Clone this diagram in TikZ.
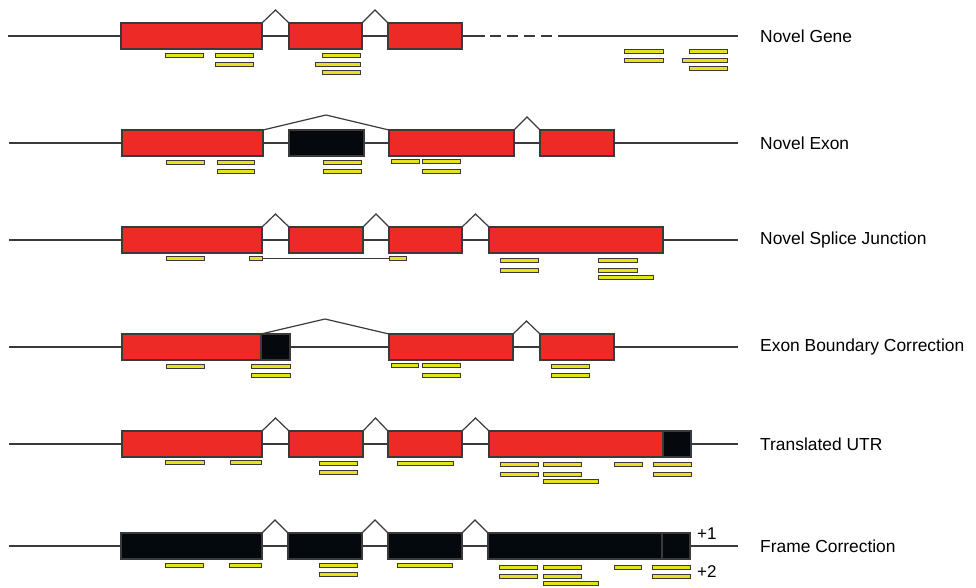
\documentclass[tikz,border=0pt]{standalone}
\usepackage{fontspec}
\setmainfont{Liberation Sans}
\usepackage{xcolor}
\definecolor{exon-red}{HTML}{EE2A27}
\definecolor{exon-black}{HTML}{05080C}
\definecolor{read-yellow}{HTML}{E6E21C}
\definecolor{edge-grey}{HTML}{3A3A3A}
\usetikzlibrary{calc}
\tikzset{exon/.style = {draw=edge-grey, line width=1.2pt, fill=exon-red, inner sep=0pt, outer sep=0pt, minimum height=26pt, anchor=west}}
\tikzset{novel/.style = {exon, fill=exon-black}}
\tikzset{read/.style = {draw=edge-grey, line width=1pt, fill=read-yellow}}
\tikzset{splitread/.style = {read, inner sep=0pt, outer sep=0pt, minimum height=4pt, anchor=west}}
\tikzset{backbone/.style = {draw=edge-grey, line width=1.2pt}}
\tikzset{intron/.style = {draw=edge-grey, line width=1.2pt}}
\tikzset{rowlabel/.style = {anchor=west, inner sep=0pt, font=\fontsize{17.4}{20}\selectfont}}

\begin{document}
\begin{tikzpicture}[x=1pt, y=-1pt]
\useasboundingbox (0,0) rectangle (976,587);

% novel gene
\coordinate (s1) at (8,36);
\coordinate (m1) at (485,36);
\coordinate (n1) at (552,36);
\coordinate (t1) at (738,36);
\draw[backbone] (s1) -- (m1);
\draw[backbone, dash pattern=on 11pt off 6pt] ($(m1)+(5,0)$) -- (n1);
\draw[backbone] ($(n1)+(6,0)$) -- (t1);
\node[exon, minimum width=141pt] (a1) at (121,36) {};
\node[exon, minimum width=73pt] (a2) at (289,36) {};
\node[exon, minimum width=74pt] (a3) at (388,36) {};
\draw[intron] (a1.north east) -- ($(a1.north east)!.5!(a2.north west)+(0,-13)$) -- (a2.north west);
\draw[intron] (a2.north east) -- ($(a2.north east)!.5!(a3.north west)+(0,-13)$) -- (a3.north west);
\draw[read] (165,53) rectangle (203,57);
\draw[read] (215,53) rectangle (253,57);
\draw[read] (215,62) rectangle (253,66);
\draw[read] (322,53) rectangle (360,57);
\draw[read] (315,62) rectangle (360,66);
\draw[read] (322,70) rectangle (360,74);
\draw[read] (624,49) rectangle (663,53);
\draw[read] (624,58) rectangle (663,62);
\draw[read] (689,49) rectangle (727,53);
\draw[read] (682,58) rectangle (727,62);
\draw[read] (689,66) rectangle (727,70);
\node[rowlabel] (l1) at (760,36) {Novel Gene};

% novel exon
\coordinate (s2) at (9,143);
\coordinate (t2) at (738,143);
\draw[backbone] (s2) -- (t2);
\node[exon, minimum width=141pt] (b1) at (122,143) {};
\node[novel, minimum width=75pt] (b2) at (289,143) {};
\node[exon, minimum width=125pt] (b3) at (389,143) {};
\node[exon, minimum width=74pt] (b4) at (540,143) {};
\draw[intron] (b1.north east) -- ($(b1.north east)!.5!(b3.north west)+(0,-15)$) -- (b3.north west);
\draw[intron] (b3.north east) -- ($(b3.north east)!.5!(b4.north west)+(0,-13)$) -- (b4.north west);
\draw[read] (166,160) rectangle (204,164);
\draw[read] (217,160) rectangle (254,164);
\draw[read] (217,169) rectangle (254,173);
\draw[read] (323,160) rectangle (361,164);
\draw[read] (323,169) rectangle (361,173);
\draw[read] (391,159) rectangle (419,163);
\draw[read] (422,159) rectangle (460,163);
\draw[read] (422,169) rectangle (460,173);
\node[rowlabel] (l2) at (760,143) {Novel Exon};

% novel splice junction
\coordinate (s3) at (9,240);
\coordinate (t3) at (738,240);
\draw[backbone] (s3) -- (t3);
\node[exon, minimum width=140pt] (c1) at (122,240) {};
\node[exon, minimum width=74pt] (c2) at (289,240) {};
\node[exon, minimum width=73pt] (c3) at (389,240) {};
\node[exon, minimum width=174pt] (c4) at (489,240) {};
\draw[intron] (c1.north east) -- ($(c1.north east)!.5!(c2.north west)+(0,-13)$) -- (c2.north west);
\draw[intron] (c2.north east) -- ($(c2.north east)!.5!(c3.north west)+(0,-13)$) -- (c3.north west);
\draw[intron] (c3.north east) -- ($(c3.north east)!.5!(c4.north west)+(0,-13)$) -- (c4.north west);
\draw[read] (166,256) rectangle (204,260);
\node[splitread, minimum width=13pt] (j1) at (249,258) {};
\node[splitread, minimum width=17pt] (j2) at (389,258) {};
\draw[draw=edge-grey, line width=.8pt] (j1.east) -- (j2.west);
\draw[read] (500,258) rectangle (538,262);
\draw[read] (500,268) rectangle (538,272);
\draw[read] (598,258) rectangle (637,262);
\draw[read] (598,268) rectangle (637,272);
\draw[read] (598,275) rectangle (653,279);
\node[rowlabel] (l3) at (760,240) {Novel Splice Junction};

% exon boundary correction
\coordinate (s4) at (9,347);
\coordinate (t4) at (738,347);
\draw[backbone] (s4) -- (t4);
\node[exon, minimum width=139pt] (d1) at (122,347) {};
\node[novel, minimum width=29pt] (d2) at (261,347) {};
\node[exon, minimum width=124pt] (d3) at (389,347) {};
\node[exon, minimum width=74pt] (d4) at (540,347) {};
\draw[intron] (d1.north east) -- ($(d1.north east)!.5!(d3.north west)+(0,-15)$) -- (d3.north west);
\draw[intron] (d3.north east) -- ($(d3.north east)!.5!(d4.north west)+(0,-13)$) -- (d4.north west);
\draw[read] (166,364) rectangle (204,368);
\draw[read] (251,364) rectangle (290,368);
\draw[read] (251,373) rectangle (290,377);
\draw[read] (391,363) rectangle (418,367);
\draw[read] (422,363) rectangle (460,367);
\draw[read] (422,373) rectangle (460,377);
\draw[read] (551,364) rectangle (589,368);
\draw[read] (551,373) rectangle (589,377);
\node[rowlabel] (l4) at (760,347) {Exon Boundary Correction};

% translated utr
\coordinate (s5) at (9,444);
\coordinate (t5) at (738,444);
\draw[backbone] (s5) -- (t5);
\node[exon, minimum width=140pt] (e1) at (122,444) {};
\node[exon, minimum width=74pt] (e2) at (289,444) {};
\node[exon, minimum width=74pt] (e3) at (388,444) {};
\node[exon, minimum width=174pt] (e4) at (489,444) {};
\node[novel, minimum width=28pt] (e5) at (663,444) {};
\draw[intron] (e1.north east) -- ($(e1.north east)!.5!(e2.north west)+(0,-13)$) -- (e2.north west);
\draw[intron] (e2.north east) -- ($(e2.north east)!.5!(e3.north west)+(0,-13)$) -- (e3.north west);
\draw[intron] (e3.north east) -- ($(e3.north east)!.5!(e4.north west)+(0,-13)$) -- (e4.north west);
\draw[read] (165,460) rectangle (204,464);
\draw[read] (230,460) rectangle (261,464);
\draw[read] (319,461) rectangle (357,465);
\draw[read] (319,470) rectangle (357,474);
\draw[read] (397,461) rectangle (453,465);
\draw[read] (500,462) rectangle (538,466);
\draw[read] (500,472) rectangle (538,476);
\draw[read] (543,462) rectangle (581,466);
\draw[read] (543,472) rectangle (581,476);
\draw[read] (543,479) rectangle (598,483);
\draw[read] (614,462) rectangle (642,466);
\draw[read] (653,462) rectangle (691,466);
\draw[read] (653,472) rectangle (691,476);
\node[rowlabel] (l5) at (760,444) {Translated UTR};

% frame correction
\coordinate (s6) at (9,546);
\coordinate (t6) at (738,546);
\draw[backbone] (s6) -- (t6);
\node[novel, minimum width=141pt] (f1) at (121,546) {};
\node[novel, minimum width=74pt] (f2) at (288,546) {};
\node[novel, minimum width=74pt] (f3) at (388,546) {};
\node[novel, minimum width=174pt] (f4) at (488,546) {};
\node[novel, minimum width=28pt] (f5) at (662,546) {};
\draw[intron] (f1.north east) -- ($(f1.north east)!.5!(f2.north west)+(0,-13)$) -- (f2.north west);
\draw[intron] (f2.north east) -- ($(f2.north east)!.5!(f3.north west)+(0,-13)$) -- (f3.north west);
\draw[intron] (f3.north east) -- ($(f3.north east)!.5!(f4.north west)+(0,-13)$) -- (f4.north west);
\draw[read] (165,563) rectangle (203,567);
\draw[read] (229,563) rectangle (261,567);
\draw[read] (319,563) rectangle (357,567);
\draw[read] (319,572) rectangle (357,576);
\draw[read] (397,563) rectangle (452,567);
\draw[read] (499,565) rectangle (537,569);
\draw[read] (499,574) rectangle (537,578);
\draw[read] (543,565) rectangle (581,569);
\draw[read] (543,574) rectangle (581,578);
\draw[read] (543,581) rectangle (598,585);
\draw[read] (614,565) rectangle (641,569);
\draw[read] (652,565) rectangle (690,569);
\draw[read] (652,574) rectangle (690,578);
\node[rowlabel, font=\fontsize{17}{20}\selectfont] (p1) at (697,534) {+1};
\node[rowlabel, font=\fontsize{17}{20}\selectfont] (p2) at (697,572) {+2};
\node[rowlabel] (l6) at (760,546) {Frame Correction};

\end{tikzpicture}
\end{document}
